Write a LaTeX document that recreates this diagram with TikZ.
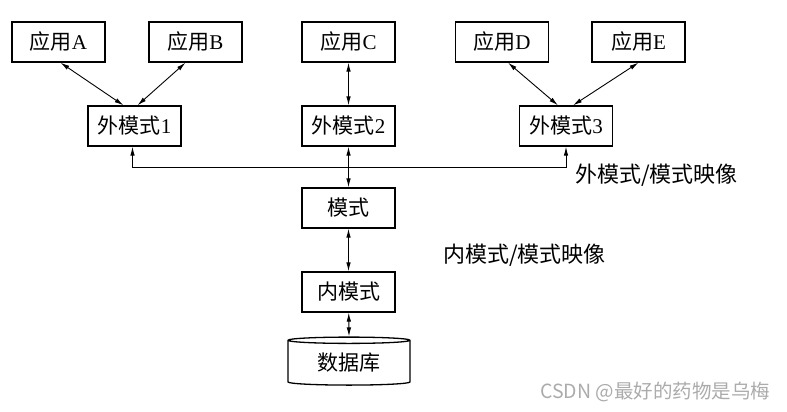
\documentclass[tikz,border=0pt]{standalone}
\usepackage{fontspec}
\setmainfont{Liberation Serif}
\newfontfamily\cjk{Noto Sans CJK SC}
\usetikzlibrary{arrows.meta,shapes.geometric}

\tikzset{
	box/.style={draw, line width=1.3pt, minimum width=93pt, minimum height=40pt, inner sep=0pt, font=\fontsize{21}{24}\selectfont},
	link/.style={line width=0.9pt, {Latex[length=9pt,width=4.5pt]}-{Latex[length=9pt,width=4.5pt]}},
}

\begin{document}
\begin{tikzpicture}[x=1pt, y=-1pt]
	\useasboundingbox (0,0) rectangle (787,412);
	\node [box] (appA) at (58.5, 42) {{\cjk 应用}A};
	\node [box] (appB) at (195.5, 42) {{\cjk 应用}B};
	\node [box] (appC) at (348.5, 42) {{\cjk 应用}C};
	\node [box] (appD) at (502, 42) {{\cjk 应用}D};
	\node [box] (appE) at (638.5, 42) {{\cjk 应用}E};
	\node [box] (ext1) at (134.5, 126) {{\cjk 外模式}1};
	\node [box] (ext2) at (348.5, 126) {{\cjk 外模式}2};
	\node [box] (ext3) at (566, 126) {{\cjk 外模式}3};
	\node [box] (schema) at (348.5, 208) {\cjk 模式};
	\node [box] (inner) at (348.5, 292) {\cjk 内模式};
	\node [draw, line width=1.3pt, cylinder, shape border rotate=90, aspect=0.1, minimum width=122pt, minimum height=48pt, inner sep=0pt, font=\fontsize{21}{24}\selectfont] (db) at (349, 363) {\cjk 数据库};
	\draw [link] ([xshift=2pt]appA.south) -- ([xshift=-11pt]ext1.north);
	\draw [link] ([xshift=-10pt]appB.south) -- ([xshift=3pt]ext1.north);
	\draw [link] (appC) -- (ext2);
	\draw [link] ([xshift=6pt]appD.south) -- ([xshift=-8pt]ext3.north);
	\draw [link] (appE.south) -- ([xshift=7pt]ext3.north);
	\draw [link] ([xshift=-2pt]ext1.south) -- ++(0,21) -| (ext3.south);
	\draw [link] (ext2) -- (schema);
	\draw [link] (schema) -- (inner);
	\draw [link] (inner) -- (db.north);
	\node [anchor=west, inner sep=0pt, font=\fontsize{22}{25}\selectfont\cjk] (extmap) at (575, 175) {外模式/模式映像};
	\node [anchor=west, inner sep=0pt, font=\fontsize{22}{25}\selectfont\cjk] (innermap) at (443, 255) {内模式/模式映像};
	\node [anchor=west, inner sep=0pt, text=black!33, font=\fontsize{19.5}{22}\selectfont\cjk] (mark) at (540, 392) {CSDN @最好的药物是乌梅};
\end{tikzpicture}
\end{document}
